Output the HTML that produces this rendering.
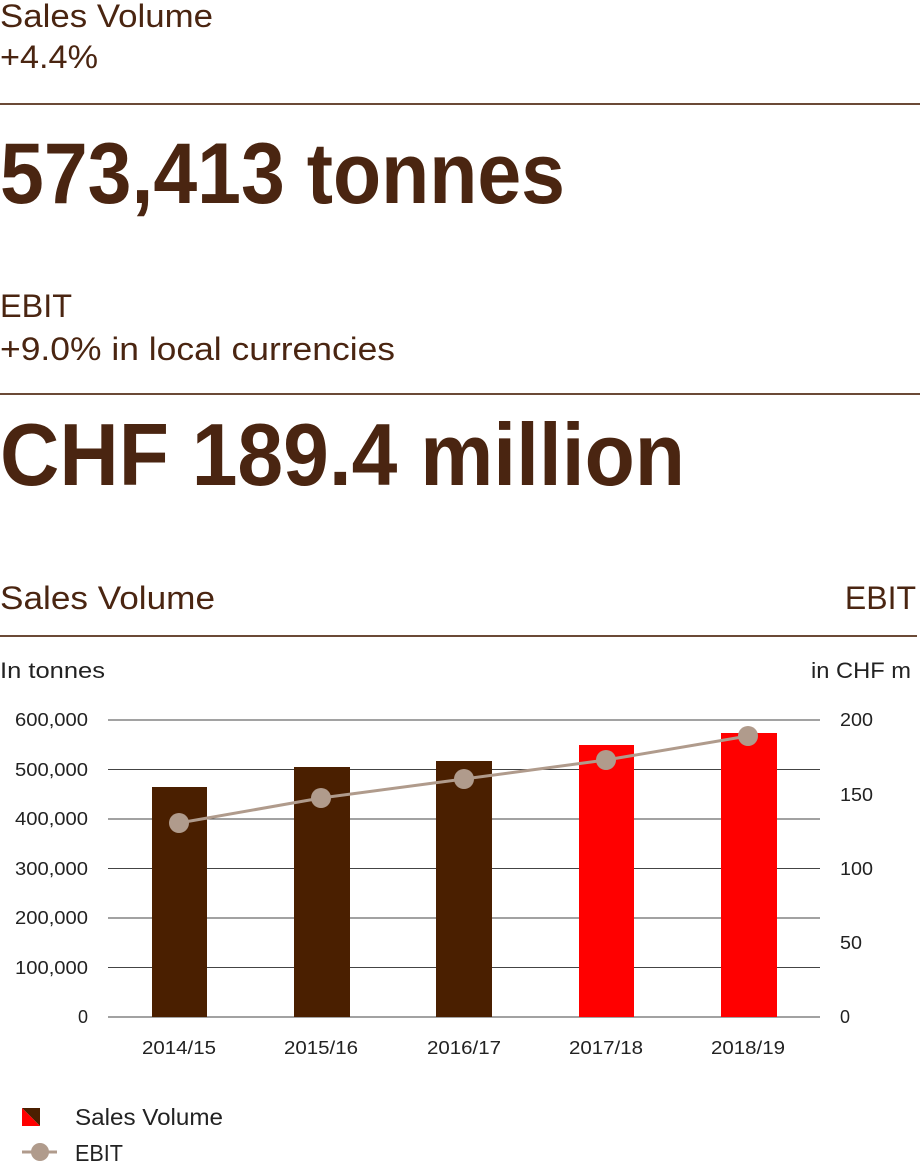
<!DOCTYPE html>
<html><head><meta charset="utf-8"><style>
html,body{margin:0;padding:0;background:#fff;}
svg{display:block;font-family:"Liberation Sans",sans-serif;}
</style></head><body>
<svg width="920" height="1168" viewBox="0 0 920 1168" xmlns="http://www.w3.org/2000/svg">
<g fill="#4a2511">
<text x="0" y="27" font-size="32" textLength="213" lengthAdjust="spacingAndGlyphs">Sales Volume</text>
<text x="0" y="68" font-size="32" textLength="98" lengthAdjust="spacingAndGlyphs">+4.4%</text>
<text x="0" y="203" font-size="86" font-weight="bold" textLength="565" lengthAdjust="spacingAndGlyphs">573,413 tonnes</text>
<text x="0" y="317" font-size="32" textLength="72" lengthAdjust="spacingAndGlyphs">EBIT</text>
<text x="0" y="360" font-size="32" textLength="395" lengthAdjust="spacingAndGlyphs">+9.0% in local currencies</text>
<text x="0" y="485" font-size="88" font-weight="bold" textLength="685" lengthAdjust="spacingAndGlyphs">CHF 189.4 million</text>
<text x="0" y="609" font-size="32" textLength="215" lengthAdjust="spacingAndGlyphs">Sales Volume</text>
<text x="916" y="609" font-size="32" text-anchor="end">EBIT</text>
</g>
<g stroke="#6b4a36" stroke-width="2">
<line x1="0" y1="104" x2="920" y2="104"/>
<line x1="0" y1="394" x2="920" y2="394"/>
<line x1="0" y1="636" x2="917" y2="636"/>
</g>
<g fill="#222" font-size="22">
<text x="0" y="678" textLength="105" lengthAdjust="spacingAndGlyphs">In tonnes</text>
<text x="811" y="678" textLength="100" lengthAdjust="spacingAndGlyphs">in CHF m</text>
</g>
<g stroke="#444" stroke-width="1">
<line x1="108" y1="720" x2="820" y2="720"/>
<line x1="108" y1="769.5" x2="820" y2="769.5"/>
<line x1="108" y1="819" x2="820" y2="819"/>
<line x1="108" y1="868.5" x2="820" y2="868.5"/>
<line x1="108" y1="918" x2="820" y2="918"/>
<line x1="108" y1="967.5" x2="820" y2="967.5"/>
<line x1="108" y1="1017" x2="820" y2="1017"/>
</g>
<g fill="#222" font-size="18">
<text x="15" y="726" textLength="73" lengthAdjust="spacingAndGlyphs">600,000</text>
<text x="15" y="776" textLength="73" lengthAdjust="spacingAndGlyphs">500,000</text>
<text x="15" y="825" textLength="73" lengthAdjust="spacingAndGlyphs">400,000</text>
<text x="15" y="875" textLength="73" lengthAdjust="spacingAndGlyphs">300,000</text>
<text x="15" y="924" textLength="73" lengthAdjust="spacingAndGlyphs">200,000</text>
<text x="15" y="974" textLength="73" lengthAdjust="spacingAndGlyphs">100,000</text>
<text x="88" y="1023" text-anchor="end">0</text>
</g>
<g fill="#222" font-size="18">
<text x="840" y="726" textLength="33" lengthAdjust="spacingAndGlyphs">200</text>
<text x="840" y="801" textLength="33" lengthAdjust="spacingAndGlyphs">150</text>
<text x="840" y="875" textLength="33" lengthAdjust="spacingAndGlyphs">100</text>
<text x="840" y="949" textLength="22" lengthAdjust="spacingAndGlyphs">50</text>
<text x="840" y="1023">0</text>
</g>
<rect x="152" y="787" width="55" height="230" fill="#4a1f00"/>
<rect x="294" y="767" width="56" height="250" fill="#4a1f00"/>
<rect x="436" y="761" width="56" height="256" fill="#4a1f00"/>
<rect x="579" y="745" width="55" height="272" fill="#ff0000"/>
<rect x="721" y="733" width="56" height="284" fill="#ff0000"/>
<polyline points="179,823 321,798 464,779 606,760 748,736" fill="none" stroke="#b09b8c" stroke-width="3"/>
<g fill="#b09b8c">
<circle cx="179" cy="823" r="10"/><circle cx="321" cy="798" r="10"/><circle cx="464" cy="779" r="10"/><circle cx="606" cy="760" r="10"/><circle cx="748" cy="736" r="10"/>
</g>
<g fill="#222" font-size="18">
<text x="142" y="1054" textLength="74" lengthAdjust="spacingAndGlyphs">2014/15</text>
<text x="284" y="1054" textLength="74" lengthAdjust="spacingAndGlyphs">2015/16</text>
<text x="427" y="1054" textLength="74" lengthAdjust="spacingAndGlyphs">2016/17</text>
<text x="569" y="1054" textLength="74" lengthAdjust="spacingAndGlyphs">2017/18</text>
<text x="711" y="1054" textLength="74" lengthAdjust="spacingAndGlyphs">2018/19</text>
</g>
<polygon points="22,1108 40,1108 40,1126" fill="#4a1f00"/>
<polygon points="22,1108 40,1126 22,1126" fill="#ff0000"/>
<line x1="22" y1="1152" x2="57" y2="1152" stroke="#b09b8c" stroke-width="3"/>
<circle cx="40" cy="1152" r="9" fill="#b09b8c"/>
<g fill="#222" font-size="23">
<text x="75" y="1125" textLength="148" lengthAdjust="spacingAndGlyphs">Sales Volume</text>
<text x="75" y="1161" textLength="48" lengthAdjust="spacingAndGlyphs">EBIT</text>
</g>
</svg>
</body></html>
